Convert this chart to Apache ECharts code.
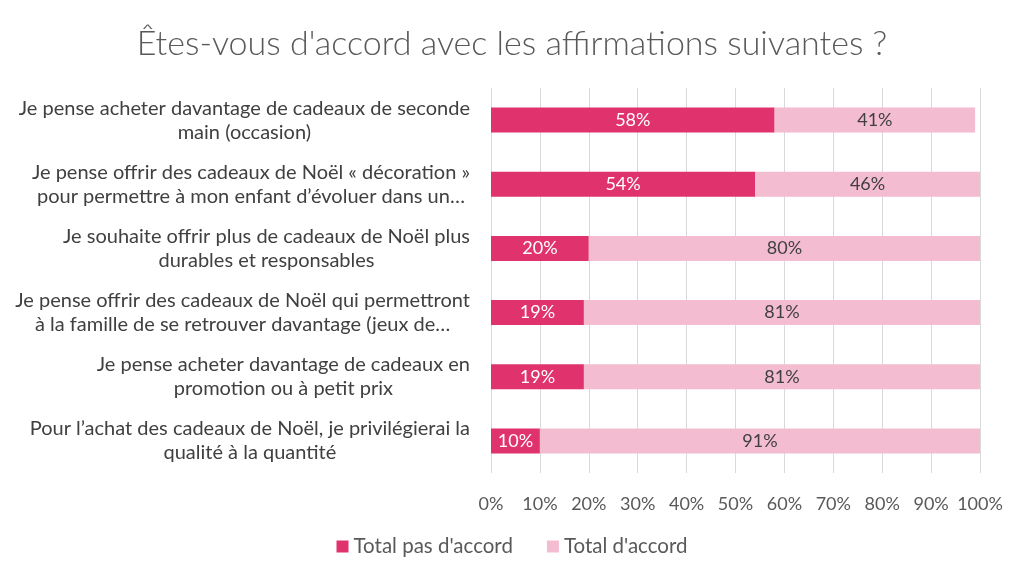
<!DOCTYPE html>
<html><head><meta charset="utf-8">
<script src="https://cdn.jsdelivr.net/npm/echarts@6/dist/echarts.min.js"></script>
<style>html,body{margin:0;padding:0;background:#fff}#c{width:1024px;height:578px}</style>
</head><body><div id="c"></div>
<script>
const titleText = "Êtes-vous d'accord avec les affirmations suivantes ?";
const categories = [
  "Je pense acheter davantage de cadeaux de seconde\nmain (occasion)",
  "Je pense offrir des cadeaux de Noël « décoration »\npour permettre à mon enfant d’évoluer dans un…",
  "Je souhaite offrir plus de cadeaux de Noël plus\ndurables et responsables",
  "Je pense offrir des cadeaux de Noël qui permettront\nà la famille de se retrouver davantage (jeux de…",
  "Je pense acheter davantage de cadeaux en\npromotion ou à petit prix",
  "Pour l’achat des cadeaux de Noël, je privilégierai la\nqualité à la quantité"
];
const seriesNames = ["Total pas d'accord", "Total d'accord"];
const pasDaccord = [58, 54, 20, 19, 19, 10];
const daccord = [41, 46, 80, 81, 81, 91];

const FONT = 'Lato';
const chart = echarts.init(document.getElementById('c'), null, {renderer: 'canvas'});
chart.setOption({
  backgroundColor: '#ffffff',
  animation: false,
  title: {
    text: titleText, left: 'center', top: 22,
    textStyle: {fontFamily: FONT, fontWeight: 300, fontSize: 34, color: '#595959'}
  },
  legend: {
    data: seriesNames, bottom: 16, left: 'center',
    itemWidth: 12, itemHeight: 12, itemGap: 34, icon: 'rect',
    textStyle: {fontFamily: FONT, fontSize: 20.5, color: '#595959'}
  },
  grid: {left: 491, right: 44, top: 88, bottom: 105, containLabel: false},
  xAxis: {
    type: 'value', min: 0, max: 100, interval: 10,
    axisLabel: {formatter: '{value}%', fontFamily: FONT, fontSize: 18, color: '#595959', margin: 22},
    axisLine: {show: false}, axisTick: {show: false},
    splitLine: {show: true, lineStyle: {color: '#d9d9d9', width: 1}}
  },
  yAxis: {
    type: 'category', data: categories, inverse: true,
    axisLine: {show: false}, axisTick: {show: false},
    axisLabel: {
      margin: 21, fontFamily: FONT, fontSize: 20, color: '#404040', lineHeight: 24, align: 'right',
      formatter: function (v) { return v.split('\n').map(l => '{c|' + l + '}').join('\n'); },
      rich: {c: {align: 'center', fontFamily: FONT, fontSize: 20, color: '#404040', lineHeight: 24}}
    }
  },
  series: [
    {
      name: seriesNames[0], type: 'bar', stack: 'a', data: pasDaccord, barWidth: 25,
      itemStyle: {color: '#E0336E'},
      label: {show: true, position: 'inside', formatter: '{c}%', fontFamily: FONT, fontSize: 18, color: '#ffffff'}
    },
    {
      name: seriesNames[1], type: 'bar', stack: 'a', data: daccord, barWidth: 25,
      itemStyle: {color: '#F4BCD0'},
      label: {show: true, position: 'inside', formatter: '{c}%', fontFamily: FONT, fontSize: 18, color: '#404040'}
    }
  ]
});
</script></body></html>
